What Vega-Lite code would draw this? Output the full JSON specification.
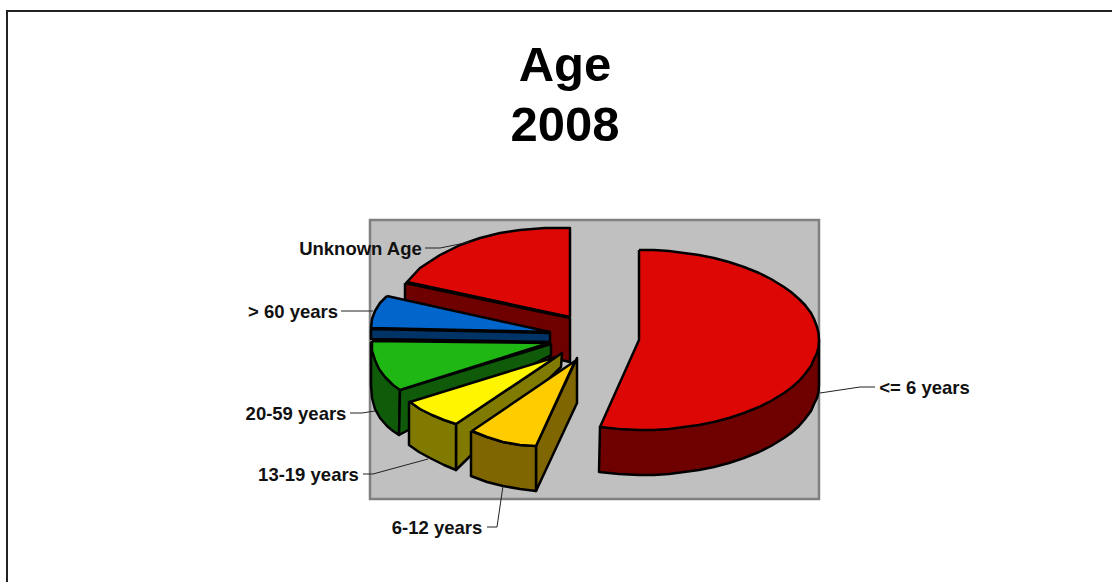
{"$schema":"https://vega.github.io/schema/vega-lite/v6.json","width":1112,"height":582,"padding":0,"autosize":"none","background":"white","view":{"stroke":null},
"title":{"text":["Age","2008"],"font":"Liberation Sans","fontWeight":"bold","fontSize":49,"lineHeight":60,"color":"black","anchor":"middle","dx":9,"offset":-151,"baseline":"top"},
"datasets":{
"frame":[{"x":1112,"y":11,"i":0},{"x":7,"y":11,"i":1},{"x":7,"y":582,"i":2}],
"plot":[{"x":370,"x2":819,"y":220,"y2":499}],
"faces":[
{"f":"Unknown side","i":0,"x":405,"y":283},{"f":"Unknown side","i":1,"x":570,"y":318},{"f":"Unknown side","i":2,"x":570,"y":362},{"f":"Unknown side","i":3,"x":405,"y":325},{"f":"Unknown side","i":4,"x":405,"y":283},
{"f":"Unknown top","i":0,"x":570,"y":317},{"f":"Unknown top","i":1,"x":407,"y":282},{"f":"Unknown top","i":2,"x":420,"y":268},{"f":"Unknown top","i":3,"x":440,"y":255},{"f":"Unknown top","i":4,"x":460,"y":245},{"f":"Unknown top","i":5,"x":480,"y":238},{"f":"Unknown top","i":6,"x":500,"y":233},{"f":"Unknown top","i":7,"x":520,"y":230},{"f":"Unknown top","i":8,"x":545,"y":228},{"f":"Unknown top","i":9,"x":570,"y":228},{"f":"Unknown top","i":10,"x":570,"y":317},
{"f":"Over60 top","i":0,"x":387,"y":296},{"f":"Over60 top","i":1,"x":550,"y":332},{"f":"Over60 top","i":2,"x":371,"y":328},{"f":"Over60 top","i":3,"x":372,"y":319},{"f":"Over60 top","i":4,"x":375,"y":311},{"f":"Over60 top","i":5,"x":380,"y":303},{"f":"Over60 top","i":6,"x":387,"y":296},
{"f":"Over60 side","i":0,"x":371,"y":329},{"f":"Over60 side","i":1,"x":550,"y":333},{"f":"Over60 side","i":2,"x":550,"y":342},{"f":"Over60 side","i":3,"x":371,"y":339},{"f":"Over60 side","i":4,"x":371,"y":329},
{"f":"Adult outer","i":0,"x":371,"y":342},{"f":"Adult outer","i":1,"x":400,"y":390},{"f":"Adult outer","i":2,"x":399,"y":435},{"f":"Adult outer","i":3,"x":393,"y":431},{"f":"Adult outer","i":4,"x":387,"y":426},{"f":"Adult outer","i":5,"x":380,"y":418},{"f":"Adult outer","i":6,"x":375,"y":409},{"f":"Adult outer","i":7,"x":372,"y":398},{"f":"Adult outer","i":8,"x":371,"y":385},{"f":"Adult outer","i":9,"x":371,"y":342},
{"f":"Adult side","i":0,"x":400,"y":390},{"f":"Adult side","i":1,"x":551,"y":344},{"f":"Adult side","i":2,"x":551,"y":355},{"f":"Adult side","i":3,"x":399,"y":435},{"f":"Adult side","i":4,"x":400,"y":390},
{"f":"Adult top","i":0,"x":372,"y":341},{"f":"Adult top","i":1,"x":549,"y":343},{"f":"Adult top","i":2,"x":400,"y":390},{"f":"Adult top","i":3,"x":393,"y":385},{"f":"Adult top","i":4,"x":385,"y":377},{"f":"Adult top","i":5,"x":379,"y":369},{"f":"Adult top","i":6,"x":375,"y":360},{"f":"Adult top","i":7,"x":372,"y":351},{"f":"Adult top","i":8,"x":372,"y":341},
{"f":"Teen side","i":0,"x":456,"y":424},{"f":"Teen side","i":1,"x":562,"y":353},{"f":"Teen side","i":2,"x":561,"y":367},{"f":"Teen side","i":3,"x":456,"y":470},{"f":"Teen side","i":4,"x":456,"y":424},
{"f":"Teen outer","i":0,"x":409,"y":401},{"f":"Teen outer","i":1,"x":420,"y":409},{"f":"Teen outer","i":2,"x":432,"y":415},{"f":"Teen outer","i":3,"x":444,"y":420},{"f":"Teen outer","i":4,"x":456,"y":424},{"f":"Teen outer","i":5,"x":456,"y":470},{"f":"Teen outer","i":6,"x":444,"y":465},{"f":"Teen outer","i":7,"x":430,"y":458},{"f":"Teen outer","i":8,"x":419,"y":452},{"f":"Teen outer","i":9,"x":409,"y":445},{"f":"Teen outer","i":10,"x":409,"y":401},
{"f":"Teen top","i":0,"x":410,"y":402},{"f":"Teen top","i":1,"x":556,"y":357},{"f":"Teen top","i":2,"x":456,"y":424},{"f":"Teen top","i":3,"x":444,"y":420},{"f":"Teen top","i":4,"x":432,"y":415},{"f":"Teen top","i":5,"x":420,"y":409},{"f":"Teen top","i":6,"x":410,"y":402},
{"f":"Child side","i":0,"x":536,"y":446},{"f":"Child side","i":1,"x":577,"y":358},{"f":"Child side","i":2,"x":577,"y":403},{"f":"Child side","i":3,"x":536,"y":491},{"f":"Child side","i":4,"x":536,"y":446},
{"f":"Child outer","i":0,"x":471,"y":431},{"f":"Child outer","i":1,"x":487,"y":437},{"f":"Child outer","i":2,"x":503,"y":442},{"f":"Child outer","i":3,"x":520,"y":445},{"f":"Child outer","i":4,"x":536,"y":446},{"f":"Child outer","i":5,"x":536,"y":491},{"f":"Child outer","i":6,"x":520,"y":489},{"f":"Child outer","i":7,"x":503,"y":486},{"f":"Child outer","i":8,"x":487,"y":482},{"f":"Child outer","i":9,"x":471,"y":476},{"f":"Child outer","i":10,"x":471,"y":431},
{"f":"Child top","i":0,"x":472,"y":431},{"f":"Child top","i":1,"x":575,"y":361},{"f":"Child top","i":2,"x":536,"y":446},{"f":"Child top","i":3,"x":520,"y":445},{"f":"Child top","i":4,"x":503,"y":442},{"f":"Child top","i":5,"x":487,"y":437},{"f":"Child top","i":6,"x":472,"y":431},
{"f":"Infant side","i":0,"x":819,"y":340},{"f":"Infant side","i":1,"x":819,"y":385},{"f":"Infant side","i":2,"x":818.5,"y":392},{"f":"Infant side","i":3,"x":817,"y":398},{"f":"Infant side","i":4,"x":814,"y":404},{"f":"Infant side","i":5,"x":811,"y":411},{"f":"Infant side","i":6,"x":805,"y":419},{"f":"Infant side","i":7,"x":799,"y":426},{"f":"Infant side","i":8,"x":791,"y":433},{"f":"Infant side","i":9,"x":784,"y":438},{"f":"Infant side","i":10,"x":771,"y":446},{"f":"Infant side","i":11,"x":759,"y":452},{"f":"Infant side","i":12,"x":744,"y":458},{"f":"Infant side","i":13,"x":729,"y":463},{"f":"Infant side","i":14,"x":714,"y":467},{"f":"Infant side","i":15,"x":699,"y":470},{"f":"Infant side","i":16,"x":684,"y":472},{"f":"Infant side","i":17,"x":669,"y":474},{"f":"Infant side","i":18,"x":654,"y":475},{"f":"Infant side","i":19,"x":639,"y":475},{"f":"Infant side","i":20,"x":619,"y":474},{"f":"Infant side","i":21,"x":599,"y":472},{"f":"Infant side","i":22,"x":600,"y":427},{"f":"Infant side","i":23,"x":819,"y":340},
{"f":"Infant top","i":0,"x":639,"y":250},{"f":"Infant top","i":1,"x":654,"y":250},{"f":"Infant top","i":2,"x":669,"y":251},{"f":"Infant top","i":3,"x":684,"y":253},{"f":"Infant top","i":4,"x":699,"y":255},{"f":"Infant top","i":5,"x":714,"y":258},{"f":"Infant top","i":6,"x":729,"y":262},{"f":"Infant top","i":7,"x":744,"y":267},{"f":"Infant top","i":8,"x":759,"y":273},{"f":"Infant top","i":9,"x":771,"y":279},{"f":"Infant top","i":10,"x":784,"y":287},{"f":"Infant top","i":11,"x":791,"y":292},{"f":"Infant top","i":12,"x":799,"y":299},{"f":"Infant top","i":13,"x":805,"y":305},{"f":"Infant top","i":14,"x":811,"y":313},{"f":"Infant top","i":15,"x":814,"y":319},{"f":"Infant top","i":16,"x":817,"y":327},{"f":"Infant top","i":17,"x":818.5,"y":333},{"f":"Infant top","i":18,"x":819,"y":340},{"f":"Infant top","i":19,"x":818.5,"y":347},{"f":"Infant top","i":20,"x":817,"y":353},{"f":"Infant top","i":21,"x":814,"y":359},{"f":"Infant top","i":22,"x":811,"y":366},{"f":"Infant top","i":23,"x":805,"y":374},{"f":"Infant top","i":24,"x":799,"y":381},{"f":"Infant top","i":25,"x":791,"y":388},{"f":"Infant top","i":26,"x":784,"y":393},{"f":"Infant top","i":27,"x":771,"y":401},{"f":"Infant top","i":28,"x":759,"y":407},{"f":"Infant top","i":29,"x":744,"y":413},{"f":"Infant top","i":30,"x":729,"y":418},{"f":"Infant top","i":31,"x":714,"y":422},{"f":"Infant top","i":32,"x":699,"y":425},{"f":"Infant top","i":33,"x":684,"y":427},{"f":"Infant top","i":34,"x":669,"y":429},{"f":"Infant top","i":35,"x":654,"y":430},{"f":"Infant top","i":36,"x":639,"y":430},{"f":"Infant top","i":37,"x":619,"y":429},{"f":"Infant top","i":38,"x":600,"y":427},{"f":"Infant top","i":39,"x":639,"y":340},{"f":"Infant top","i":40,"x":639,"y":250}
],
"leaders":[
{"l":"Unknown Age","i":0,"x":425,"y":248},{"l":"Unknown Age","i":1,"x":440,"y":248},{"l":"Unknown Age","i":2,"x":470,"y":242},
{"l":"> 60 years","i":0,"x":341,"y":311},{"l":"> 60 years","i":1,"x":373,"y":311},
{"l":"20-59 years","i":0,"x":350,"y":413},{"l":"20-59 years","i":1,"x":362,"y":413},{"l":"20-59 years","i":2,"x":375,"y":411},
{"l":"13-19 years","i":0,"x":363,"y":474},{"l":"13-19 years","i":1,"x":373,"y":474},{"l":"13-19 years","i":2,"x":428,"y":459},
{"l":"6-12 years","i":0,"x":487,"y":527},{"l":"6-12 years","i":1,"x":497,"y":527},{"l":"6-12 years","i":2,"x":503,"y":486},
{"l":"<= 6 years","i":0,"x":820,"y":393},{"l":"<= 6 years","i":1,"x":860,"y":387},{"l":"<= 6 years","i":2,"x":875,"y":387}
],
"labels":[
{"t":"Unknown Age","x":360.5,"y":249},{"t":"> 60 years","x":293,"y":312},{"t":"20-59 years","x":296,"y":414},{"t":"13-19 years","x":308.5,"y":475},{"t":"6-12 years","x":437,"y":528},{"t":"<= 6 years","x":924.5,"y":388}
]},
"encoding":{
"x":{"field":"x","type":"quantitative","scale":{"domain":[0,1112],"nice":false,"zero":false},"axis":null},
"y":{"field":"y","type":"quantitative","scale":{"domain":[0,582],"reverse":true,"nice":false,"zero":false},"axis":null}},
"layer":[
{"data":{"name":"frame"},"mark":{"type":"line","stroke":"#222222","strokeWidth":2,"clip":false},"encoding":{"order":{"field":"i"}}},
{"data":{"name":"plot"},"mark":{"type":"rect","fill":"#C0C0C0","stroke":"#808080","strokeWidth":2.5},"encoding":{"x2":{"field":"x2"},"y2":{"field":"y2"}}},
{"data":{"name":"faces"},"mark":{"type":"line","stroke":"black","strokeWidth":2.5,"strokeJoin":"round"},
"encoding":{"order":{"field":"i"},"detail":{"field":"f"},
"fill":{"field":"f","type":"nominal","legend":null,"scale":{"domain":["Unknown side","Unknown top","Over60 top","Over60 side","Adult outer","Adult side","Adult top","Teen side","Teen outer","Teen top","Child side","Child outer","Child top","Infant side","Infant top"],"range":["#6E0000","#DD0806","#0066CC","#003366","#0F5B0A","#0F5B0A","#1FB714","#807A00","#807A00","#FFF500","#806600","#806600","#FFCC00","#6E0000","#DD0806"]}}}},
{"data":{"name":"leaders"},"mark":{"type":"line","stroke":"#222222","strokeWidth":1},"encoding":{"order":{"field":"i"},"detail":{"field":"l"}}},
{"data":{"name":"labels"},"mark":{"type":"text","font":"Liberation Sans","fontWeight":"bold","fontSize":18.5,"color":"#111111","align":"center","baseline":"middle"},"encoding":{"text":{"field":"t"}}}
]}
